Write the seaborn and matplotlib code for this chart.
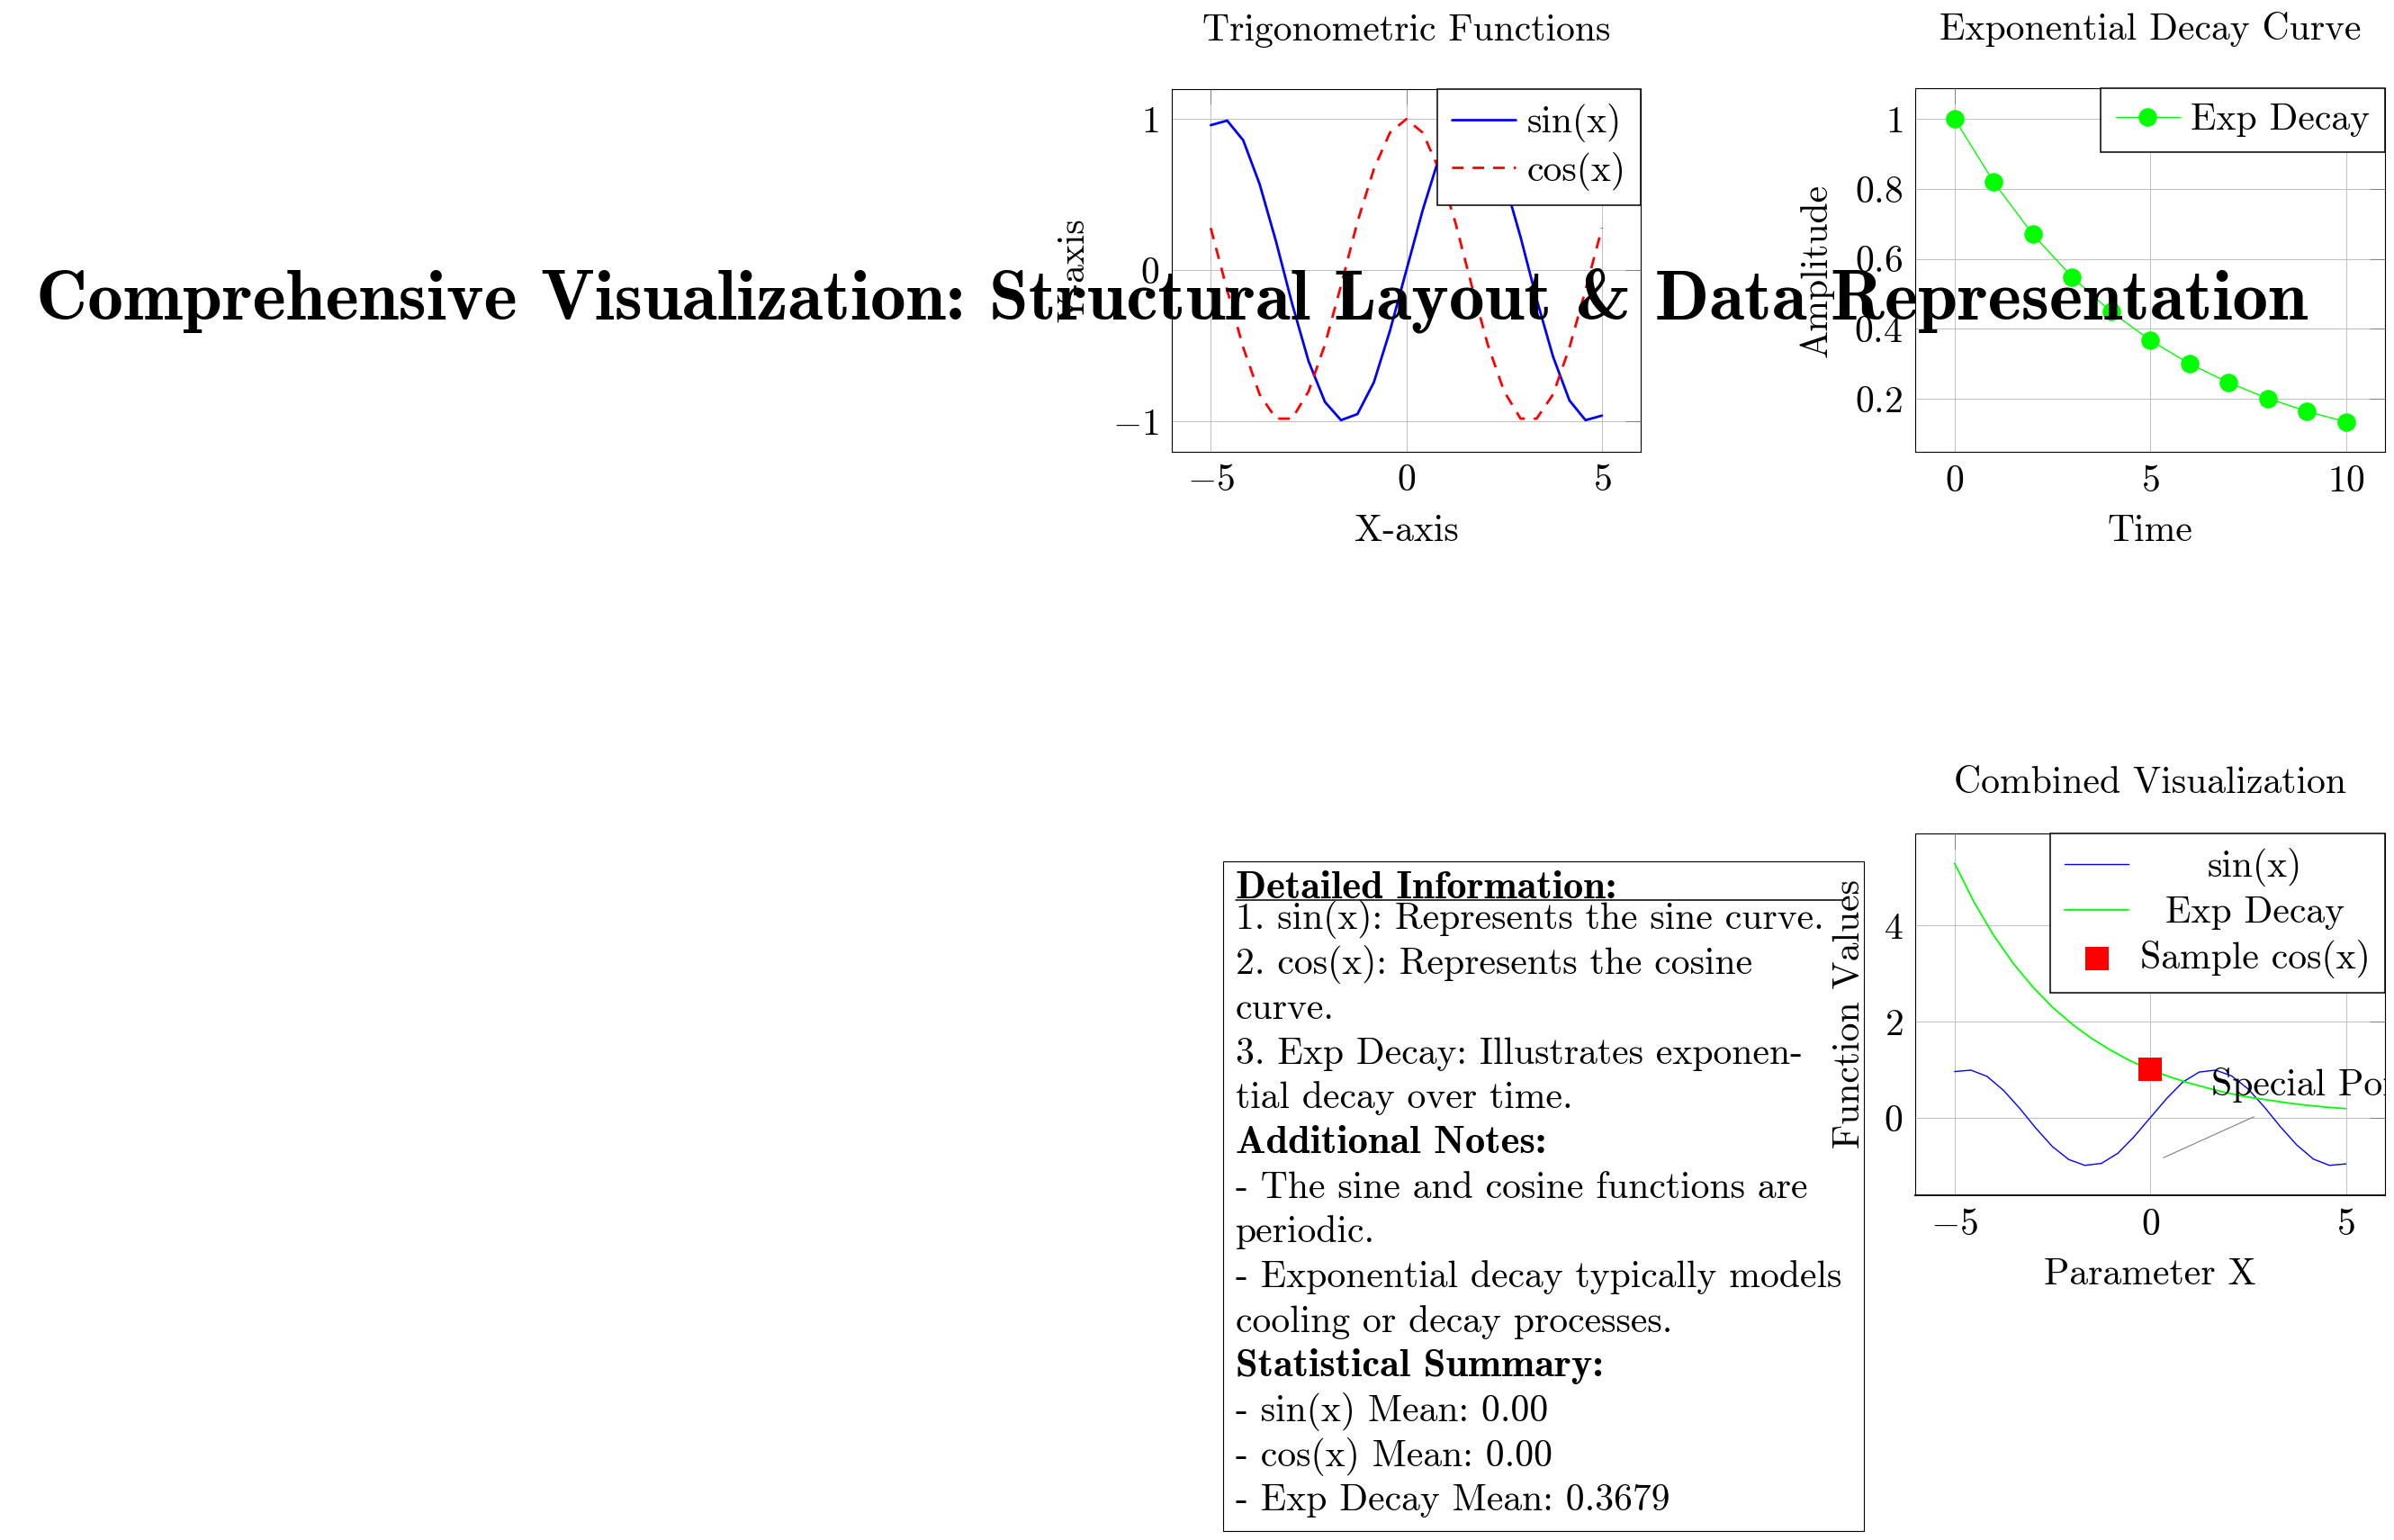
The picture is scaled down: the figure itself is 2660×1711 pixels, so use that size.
import matplotlib
matplotlib.use("Agg")
import matplotlib.pyplot as plt
import seaborn as sns
from matplotlib.patches import Rectangle
from matplotlib.lines import Line2D
from matplotlib.ticker import FixedLocator, FuncFormatter

# values
trig_x = [-5.0, -4.58, -4.17, -3.75, -3.33, -2.92, -2.5, -2.08, -1.67, -1.25, -0.83, -0.42, 0.0,
          0.42, 0.83, 1.25, 1.67, 2.08, 2.5, 2.92, 3.33, 3.75, 4.17, 4.58, 5.0]
sin_vals = [0.96, 0.99, 0.86, 0.57, 0.19, -0.22, -0.60, -0.87, -0.99, -0.95, -0.74, -0.40, 0.0,
            0.40, 0.74, 0.95, 0.99, 0.87, 0.60, 0.22, -0.19, -0.57, -0.86, -0.99, -0.96]
cos_vals = [0.28, -0.13, -0.51, -0.82, -0.98, -0.98, -0.80, -0.49, -0.10, 0.32, 0.67, 0.91, 1.0,
            0.91, 0.67, 0.32, -0.10, -0.49, -0.80, -0.98, -0.98, -0.82, -0.51, -0.13, 0.28]

exp_t = [0, 1, 2, 3, 4, 5, 6, 7, 8, 9, 10]
exp_vals = [1.0, 0.819, 0.670, 0.549, 0.449, 0.368, 0.301, 0.247, 0.202, 0.165, 0.135]

comb_x = [-5.0, -4.5, -4.0, -3.5, -3.0, -2.5, -2.0, -1.5, -1.0, -0.5, 0.0,
          0.5, 1.0, 1.5, 2.0, 2.5, 3.0, 3.5, 4.0, 4.5, 5.0]
comb_exp = [5.29, 4.48, 3.79, 3.21, 2.72, 2.30, 1.95, 1.65, 1.40, 1.18, 1.00,
            0.85, 0.72, 0.61, 0.51, 0.43, 0.37, 0.31, 0.26, 0.22, 0.19]
sample_x = [0.0]
sample_y = [1.0]

note_line_x = [0.34, 2.65]
note_line_y = [-0.83, 0.02]
note_xy = (1.57, 0.47)
note_label = "Special Point"

main_title = "Comprehensive Visualization: Structural Layout & Data Representation"

info_lines = [
    "Detailed Information:",
    "1. sin(x): Represents the sine curve.",
    "2. cos(x): Represents the cosine",
    "curve.",
    "3. Exp Decay: Illustrates exponen-",
    "tial decay over time.",
    "Additional Notes:",
    "- The sine and cosine functions are",
    "periodic.",
    "- Exponential decay typically models",
    "cooling or decay processes.",
    "Statistical Summary:",
    "- sin(x) Mean: 0.00",
    "- cos(x) Mean: 0.00",
    "- Exp Decay Mean: 0.3679",
]
info_bold = [True, False, False, False, False, False, True, False, False, False, False, True,
             False, False, False]

W, H = 2660, 1711
FS = 30
BLUE, RED, GREEN = "#0000ff", "#ff0000", "#00ff00"
ROMAN = ["cmr10", "DejaVu Serif"]
BOLD = ["cmb10", "DejaVu Serif"]


def fx(px):
    return px / W


def fy(py):
    return 1 - py / H


def add_axes(fig, left, right, top, bottom):
    return fig.add_axes([fx(left), fy(bottom), (right - left) / W, (bottom - top) / H])


def enlarged(values, frac=0.1):
    lo, hi = min(values), max(values)
    pad = (hi - lo) * frac
    return lo - pad, hi + pad


def style_axes(ax, xticks, yticks, title, xlabel, ylabel, title_y, ylab_x):
    ax.set_axisbelow(True)
    ax.grid(True, color="#c0c0c0", lw=0.7)
    ax.xaxis.set_major_locator(FixedLocator(xticks))
    ax.yaxis.set_major_locator(FixedLocator(yticks))
    fmt = FuncFormatter(lambda v, p: r"$\mathdefault{%g}$" % v)
    ax.xaxis.set_major_formatter(fmt)
    ax.yaxis.set_major_formatter(fmt)
    ax.tick_params(direction="in", length=12, width=0.7, color="#7f7f7f", labelcolor="black",
                   top=True, right=True, labelsize=FS, pad=10)
    for sp in ax.spines.values():
        sp.set_color("black")
        sp.set_linewidth(0.8)
    ax.set_title(title, y=title_y, va="baseline", fontsize=FS, family=ROMAN, color="black")
    ax.set_xlabel(xlabel, fontsize=FS, family=ROMAN, color="black")
    ax.xaxis.set_label_coords(0.5, -0.245)
    ax.xaxis.label.set_va("baseline")
    ax.set_ylabel(ylabel, fontsize=FS, family=ROMAN, color="black")
    ax.yaxis.set_label_coords(ylab_x, 0.5)
    ax.yaxis.label.set_va("baseline")


def boxed_legend(ax):
    leg = ax.legend(loc="upper right", borderaxespad=0, fancybox=False, framealpha=1,
                    edgecolor="black", prop={"family": ROMAN, "size": FS},
                    handlelength=1.7, handletextpad=0.3, borderpad=0.4, labelspacing=0.25)
    leg.get_frame().set_linewidth(1.1)
    for t in leg.get_texts():
        t.set_color("black")
    return leg


sns.set_theme(style="white")
plt.rcParams["font.family"] = ROMAN
plt.rcParams["mathtext.fontset"] = "cm"
plt.rcParams["axes.formatter.use_mathtext"] = True
plt.rcParams["text.color"] = "black"
plt.rcParams["axes.labelcolor"] = "black"

fig = plt.figure(figsize=(W / 100, H / 100), dpi=100)

# Trigonometric functions
ax1 = add_axes(fig, 1301.8, 1823.4, 98.7, 502.1)
sns.lineplot(x=trig_x, y=sin_vals, ax=ax1, color=BLUE, lw=2.0, label="sin(x)")
sns.lineplot(x=trig_x, y=cos_vals, ax=ax1, color=RED, lw=2.0, linestyle=(0, (4.6, 3.6)),
             label="cos(x)")
ax1.set_xlim(enlarged(trig_x))
ax1.set_ylim(-1.2, 1.2)
style_axes(ax1, [-5, 0, 5], [-1, 0, 1], "Trigonometric Functions", "X-axis", "Y-axis",
           1.113, -0.186)
boxed_legend(ax1)

# Exponential decay
ax2 = add_axes(fig, 2128.3, 2650, 98.3, 502.3)
sns.lineplot(x=exp_t, y=exp_vals, ax=ax2, color=GREEN, lw=1.0, marker="o", markersize=14,
             markerfacecolor=GREEN, markeredgecolor=GREEN, label="Exp Decay")
ax2.set_xlim(enlarged(exp_t))
ax2.set_ylim(enlarged(exp_vals))
style_axes(ax2, [0, 5, 10], [0.2, 0.4, 0.6, 0.8, 1.0], "Exponential Decay Curve", "Time",
           "Amplitude", 1.113, -0.190)
boxed_legend(ax2)

# Combined visualization
ax3 = add_axes(fig, 2128.3, 2650, 925.7, 1328.3)
sns.lineplot(x=trig_x, y=sin_vals, ax=ax3, color=BLUE, lw=1.0, label="sin(x)")
sns.lineplot(x=comb_x, y=comb_exp, ax=ax3, color=GREEN, lw=1.3, label="Exp Decay")
sns.scatterplot(x=sample_x, y=sample_y, ax=ax3, marker="s", s=19.2 ** 2, color=RED,
                linewidth=0, label="Sample cos(x)", zorder=4)
ax3.plot(note_line_x, note_line_y, color="#808080", lw=0.8)
ax3.text(note_xy[0], note_xy[1], note_label, fontsize=FS, family=ROMAN, ha="left",
         va="baseline", clip_on=True)
ax3.set_xlim(enlarged(comb_x))
ax3.set_ylim(enlarged(sin_vals + comb_exp))
style_axes(ax3, [-5, 0, 5], [0, 2, 4], "Combined Visualization", "Parameter X",
           "Function Values", 1.09, -0.119)
ax3.spines["bottom"].set_linewidth(1.3)
leg3 = boxed_legend(ax3)

# main title over everything
fig.text(fx(1302.5), fy(354.5), main_title, ha="center", va="baseline", fontsize=57,
         family=BOLD, zorder=10)

# text box with notes
fig.add_artist(Rectangle((fx(1359), fy(1701)), 712 / W, (1701 - 956.5) / H,
                         transform=fig.transFigure, fill=False, ec="black", lw=0.8))
baselines = [998.0] + [1032.4 + 49.7 * k for k in range(len(info_lines) - 1)]
for line, bold, base in zip(info_lines, info_bold, baselines):
    fig.text(fx(1373), fy(base), line, ha="left", va="baseline",
             fontsize=32 if bold else FS, family=BOLD if bold else ROMAN)
fig.add_artist(Line2D([fx(1373), fx(2050)], [fy(1000), fy(1000)], transform=fig.transFigure,
                      color="black", lw=1.1))

# centre the labels of the combined legend, like the original
fig.canvas.draw()
renderer = fig.canvas.get_renderer()
texts = leg3.get_texts()
widths = [t.get_window_extent(renderer).width for t in texts]
for t, w in zip(texts, widths):
    t.set_x((max(widths) - w) / 2)

fig.savefig("out.png", dpi=100)
plt.close(fig)
